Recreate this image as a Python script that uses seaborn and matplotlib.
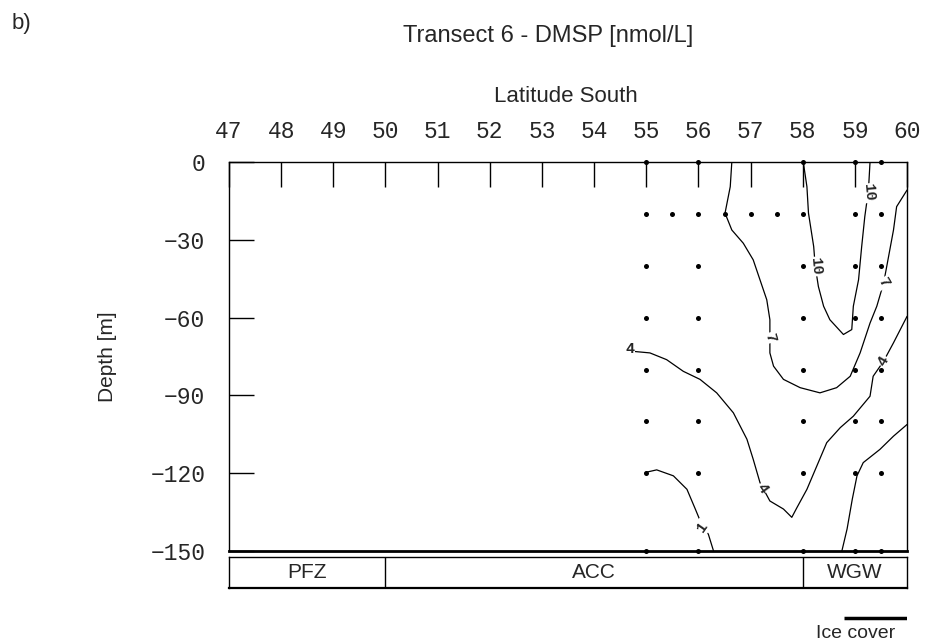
import numpy as np
import pandas as pd
import matplotlib
matplotlib.use("Agg")
import matplotlib.pyplot as plt
import seaborn as sns

# ---- data ----
lat_ticks = list(range(47, 61))
depth_ticks = [0, -30, -60, -90, -120, -150]

# sampling stations (latitude, depth)
station_lat = [55, 56, 58, 59, 59.5]
depths_std = [0, -40, -60, -80, -100, -120, -150]
extra_lat_20 = [55, 55.5, 56, 56.5, 57, 57.5, 58, 59, 59.5]

# contour polylines
c4_lat = [54.75, 55.07, 55.39, 55.71, 56.03, 56.35, 56.67, 56.93, 57.05, 57.18, 57.37, 57.63, 57.79,
          57.89, 58.08, 58.27, 58.46, 58.72, 58.97, 59.29, 59.35, 59.55, 59.74, 60.0]
c4_dep = [-73.0, -73.6, -76.2, -80.7, -83.8, -89.0, -96.7, -106.9, -114.6, -123.6, -130.7, -133.8, -137.0,
          -133.2, -126.2, -117.2, -108.2, -102.4, -98.0, -90.3, -82.6, -76.8, -69.7, -59.5]
c1a_lat = [54.98, 55.20, 55.52, 55.78, 55.94, 56.08, 56.19, 56.29]
c1a_dep = [-119.7, -118.7, -121.0, -126.2, -133.8, -140.6, -143.5, -150.0]
c1b_lat = [58.75, 58.85, 58.95, 59.04, 59.16, 59.48, 59.74, 60.0]
c1b_dep = [-150.0, -141.5, -130.0, -121.0, -115.9, -110.8, -105.7, -101.2]
c7_lat = [56.64, 56.61, 56.51, 56.64, 56.86, 57.05, 57.18, 57.31, 57.37, 57.37, 57.37, 57.44, 57.63, 57.95,
          58.33, 58.65, 58.91, 59.10, 59.29, 59.42, 59.55, 59.61, 59.74, 59.80, 60.0]
c7_dep = [0.0, -9.5, -19.7, -26.2, -31.3, -37.7, -45.4, -53.1, -60.8, -67.8, -73.6, -78.7, -83.8, -87.0,
          -89.0, -87.0, -82.6, -73.6, -62.1, -55.6, -46.7, -40.3, -26.2, -17.2, -10.8]
c10_lat = [58.01, 58.08, 58.11, 58.21, 58.24, 58.30, 58.40, 58.52, 58.78, 58.94, 58.97, 59.07, 59.13,
           59.19, 59.26, 59.29]
c10_dep = [0.0, -9.5, -19.7, -32.6, -40.3, -48.0, -55.6, -60.8, -66.5, -64.6, -55.6, -45.4, -32.6,
           -21.0, -10.8, 0.0]

# contour labels: (text, lat, depth, rotation)
lab_text = ["4", "4", "4", "1", "7", "7", "10", "10"]
lab_lat = [54.68, 57.22, 59.55, 56.08, 57.37, 59.55, 58.24, 59.26]
lab_dep = [-72.0, -126.0, -76.8, -140.6, -67.8, -46.7, -40.3, -12.0]
lab_rot = [0, -55, 60, 55, -75, -60, -85, -85]

zones = ["PFZ", "ACC", "WGW"]
zone_start = [47, 50, 58]
zone_end = [50, 58, 60]
ice_start, ice_end = 58.8, 60.0

# ---- build tables ----
pts = []
for d in depths_std:
    for la in station_lat:
        pts.append((la, d))
for la in extra_lat_20:
    pts.append((la, -20))
pts_df = pd.DataFrame(pts, columns=["lat", "depth"])

contours = []
for name, la, de in [("c4", c4_lat, c4_dep), ("c1a", c1a_lat, c1a_dep), ("c1b", c1b_lat, c1b_dep),
                     ("c7", c7_lat, c7_dep), ("c10", c10_lat, c10_dep)]:
    for i, (a, b) in enumerate(zip(la, de)):
        contours.append((name, i, a, b))
cont_df = pd.DataFrame(contours, columns=["line", "order", "lat", "depth"])

# ---- plot ----
sns.set_theme(style="white")
plt.rcParams["font.family"] = ["Liberation Sans", "DejaVu Sans"]
tickfont = "Liberation Mono"

fig = plt.figure(figsize=(9.25, 6.4), dpi=100)
ax = fig.add_axes([0.2476, 0.139, 0.7330, 0.6078])

for name, g in cont_df.groupby("line", sort=False):
    sns.lineplot(data=g, x="lat", y="depth", sort=False, estimator=None, ax=ax,
                 color="black", linewidth=0.9, legend=False)

sns.scatterplot(data=pts_df, x="lat", y="depth", ax=ax, color="black", s=13,
                marker="o", linewidth=0, legend=False, zorder=5, clip_on=False)

for t, la, de, r in zip(lab_text, lab_lat, lab_dep, lab_rot):
    ax.text(la, de, t, rotation=r, ha="center", va="center", fontsize=11,
            family=tickfont, fontweight="bold",
            bbox=dict(facecolor="white", edgecolor="none", pad=0.5), zorder=6)

ax.set_xlim(47, 60)
ax.set_ylim(-150, 0)
ax.set_xticks(lat_ticks)
ax.set_xticklabels([str(v) for v in lat_ticks], family=tickfont, fontsize=16.5)
ax.set_yticks(depth_ticks)
ax.set_yticklabels(["0" if v == 0 else "\u2212" + str(-v) for v in depth_ticks],
                   family=tickfont, fontsize=16.5)
ax.xaxis.tick_top()
ax.xaxis.set_label_position("top")
ax.tick_params(axis="x", direction="in", length=18, width=1, color="black", pad=14,
               top=True, bottom=False, labeltop=True, labelbottom=False)
ax.tick_params(axis="y", direction="in", length=18, width=1, color="black", pad=17,
               left=True, right=False)
ax.set_xlabel("Latitude South", fontsize=16)
ax.xaxis.set_label_coords(0.497, 1.154)
ax.set_ylabel("Depth [m]", fontsize=15)
ax.yaxis.set_label_coords(-0.165, 0.5)
for s in ax.spines.values():
    s.set_color("black")
    s.set_linewidth(1.0)
ax.spines["bottom"].set_linewidth(2.0)
ax.grid(False)

# zone bar
axz = fig.add_axes([0.2476, 0.0813, 0.7330, 0.0484])
axz.set_xlim(47, 60)
axz.set_ylim(0, 1)
for z, a, b in zip(zones, zone_start, zone_end):
    if a > 47:
        axz.axvline(a, color="black", linewidth=1.0)
    axz.text((a + b) / 2, 0.5, z, ha="center", va="center", fontsize=15)
axz.set_xticks([])
axz.set_yticks([])
for s in axz.spines.values():
    s.set_color("black")
    s.set_linewidth(1.0)
axz.spines["bottom"].set_linewidth(1.6)

# ice cover
axi = fig.add_axes([0.2476, 0.0, 0.7330, 0.06])
axi.set_xlim(47, 60)
axi.set_ylim(0, 1)
axi.plot([ice_start, ice_end], [0.573, 0.573], color="black", linewidth=2.5, solid_capstyle="butt")
axi.text(59.77, 0.06, "Ice cover", ha="right", va="baseline", fontsize=14)
axi.axis("off")

fig.text(0.5924, 0.9437, "Transect 6 - DMSP [nmol/L]", ha="center", va="center", fontsize=17)
fig.text(0.013, 0.964, "b)", ha="left", va="center", fontsize=16)

fig.savefig("out.png", dpi=100)
